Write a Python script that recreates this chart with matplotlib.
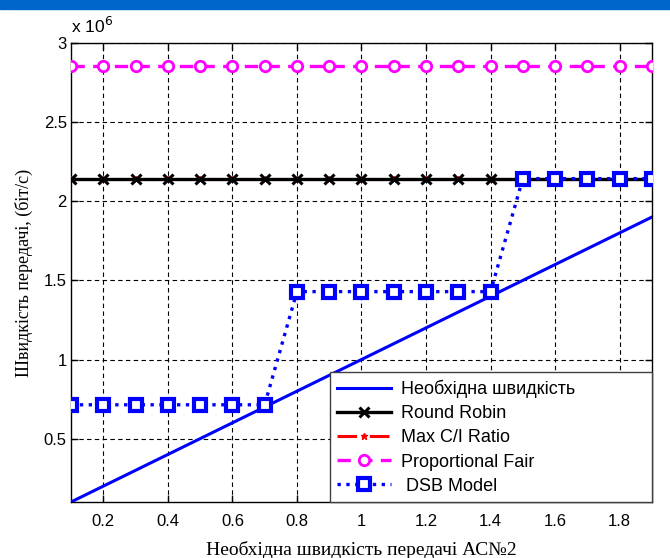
import numpy as np
import matplotlib
matplotlib.use('Agg')
import matplotlib.pyplot as plt
from matplotlib.ticker import FuncFormatter
from matplotlib.patches import Rectangle

# data (rates in bit/s)
x = [0.1, 0.2, 0.3, 0.4, 0.5, 0.6, 0.7, 0.8, 0.9, 1.0,
     1.1, 1.2, 1.3, 1.4, 1.5, 1.6, 1.7, 1.8, 1.9]
required = [0.1e6, 0.2e6, 0.3e6, 0.4e6, 0.5e6, 0.6e6, 0.7e6, 0.8e6, 0.9e6, 1.0e6,
            1.1e6, 1.2e6, 1.3e6, 1.4e6, 1.5e6, 1.6e6, 1.7e6, 1.8e6, 1.9e6]
round_robin = [2.143e6] * 19
max_ci = [2.143e6] * 19
prop_fair = [2.857e6] * 19
dsb = [0.714e6, 0.714e6, 0.714e6, 0.714e6, 0.714e6, 0.714e6, 0.714e6,
       1.429e6, 1.429e6, 1.429e6, 1.429e6, 1.429e6, 1.429e6, 1.429e6,
       2.143e6, 2.143e6, 2.143e6, 2.143e6, 2.143e6]
labels = ['Необхідна швидкість', 'Round Robin', 'Max C/I Ratio',
          'Proportional Fair', ' DSB Model']

fig = plt.figure(figsize=(6.7, 5.58), dpi=100)
fig.patches.append(Rectangle((0, 1 - 9 / 558), 1, 9 / 558, transform=fig.transFigure,
                             color='#0066cc', zorder=0))
ax = fig.add_axes([0.106, 0.1004, 0.867, 0.8226])

l1, = ax.plot(x, required, '-', color='#0000ff', lw=2.2, zorder=3)
l3, = ax.plot(x, max_ci, '-.', color='#ff0000', lw=2.2, marker='*', ms=5, zorder=3)
l2, = ax.plot(x, round_robin, '-', color='black', lw=2.4, marker='x', ms=6.5, mew=2.2, zorder=4)
l4, = ax.plot(x, prop_fair, color='#ff00ff', lw=2.4, ls=(0, (4, 2.5)), marker='o', ms=7.5,
              mew=2, mfc='white', mec='#ff00ff', zorder=4)
l5, = ax.plot(x, dsb, ':', color='#0000ff', lw=2.4, marker='s', ms=8, mew=3,
              mfc='white', mec='#0000ff', zorder=5)

ax.set_xlim(0.1, 1.9)
ax.set_ylim(0.1e6, 3e6)
ax.set_xticks([0.2, 0.4, 0.6, 0.8, 1.0, 1.2, 1.4, 1.6, 1.8])
ax.set_yticks([0.5e6, 1e6, 1.5e6, 2e6, 2.5e6, 3e6])
ax.xaxis.set_major_formatter(FuncFormatter(lambda v, p: '%g' % v))
ax.yaxis.set_major_formatter(FuncFormatter(lambda v, p: '%g' % (v / 1e6)))
ax.tick_params(direction='in', top=True, right=True, length=5, width=1,
               labelsize=12)
ax.tick_params(axis='x', pad=9)
ax.tick_params(axis='y', pad=3)
for lab in ax.get_xticklabels() + ax.get_yticklabels():
    lab.set_family('Liberation Sans')
ax.grid(True, color='black', linestyle=(0, (4, 3)), lw=0.8)
for s in ax.spines.values():
    s.set_linewidth(1)

ax.text(0.0, 1.015, 'x 10$^6$', transform=ax.transAxes, fontsize=12.5,
        family='Liberation Sans', va='bottom', ha='left')

ax.set_xlabel('Необхідна швидкість передачі АС№2', family='Liberation Serif',
              fontsize=14, labelpad=8)
ax.set_ylabel('Швидкість передачі, (біт/с)', family='Liberation Serif',
              fontsize=13, labelpad=8)

leg = ax.legend([l1, l2, l3, l4, l5], labels, loc='lower left',
                bbox_to_anchor=(0.446, 0.0, 0.554, 0.2), mode='expand',
                borderaxespad=0, fancybox=False, framealpha=1, edgecolor='#404040',
                prop={'family': 'Liberation Sans', 'size': 13},
                handlelength=3.0, handletextpad=0.5, labelspacing=0.4, borderpad=0.4)
leg.get_frame().set_linewidth(1)
leg.set_zorder(10)

fig.savefig('out.png', dpi=100)
